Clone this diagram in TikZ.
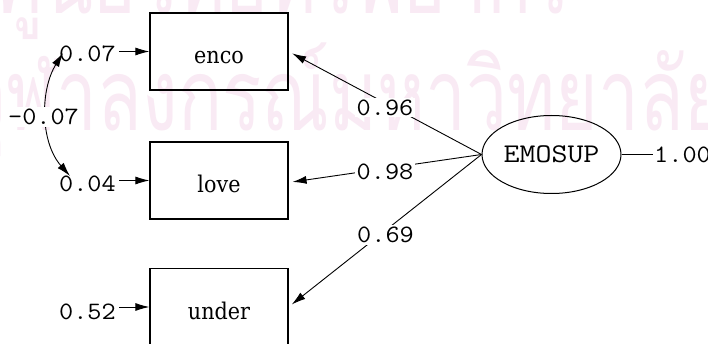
\documentclass[tikz,border=0pt]{standalone}
\usepackage{fontspec}
\usetikzlibrary{shapes.geometric,arrows.meta}
\newfontfamily\boxfont{DejaVu Serif}[FakeStretch=0.9]
\newfontfamily\numfont{Latin Modern Mono}[FakeStretch=1.1]
\newfontfamily\latfont{Latin Modern Mono}[FakeStretch=1.15]
\newfontfamily\thaifont[Script=Thai,FakeStretch=0.73]{Loma}
\definecolor{wmark}{RGB}{249,234,244}
\tikzset{
  obs/.style={draw, line width=1.2pt, minimum width=138pt, minimum height=77pt, inner sep=0pt,
    text height=24pt, text depth=0pt, font=\boxfont\fontsize{23}{23}\selectfont},
  lat/.style={ellipse, draw, line width=1pt, minimum width=139pt, minimum height=78pt, inner sep=0pt,
    font=\latfont\fontsize{27}{27}\selectfont},
  numtxt/.style={font=\numfont\fontsize{25}{25}\selectfont, inner sep=1pt},
  loadlab/.style={numtxt, fill=white, inner sep=2pt},
  conn/.style={line width=0.9pt, -{Latex[length=14pt,width=8pt]}},
  cov/.style={line width=0.9pt, {Latex[length=14pt,width=8pt]}-{Latex[length=14pt,width=8pt]}},
  wm/.style={font=\thaifont\fontsize{100}{100}\selectfont, text=wmark, inner sep=0pt}
}
\begin{document}
\begin{tikzpicture}[x=1pt,y=-1pt]
\useasboundingbox (0,0) rectangle (708,344);
\fill[white] (0,0) rectangle (708,344);
% watermark
\node[wm, anchor=base west] (wm1) at (-3,14) {ศูนย์วิทยทรัพยากร};
\node[wm, anchor=base west] (wm2) at (-36,131) {จุฬาลงกรณ์มหาวิทยาลัย};
% observed variables
\node[obs] (enco) at (219,51.5) {enco};
\node[obs] (love) at (219,180.5) {love};
\node[obs] (under) at (219,307) {under};
% latent
\node[lat] (emo) at (551.5,154.5) {EMOSUP};
% error terms
\node[numtxt, anchor=east] (e1) at (117,54) {0.07};
\node[numtxt, anchor=east] (e2) at (117,183.5) {0.04};
\node[numtxt, anchor=east] (e3) at (117,311.5) {0.52};
\draw[conn] (enco.west -| e1.east) ++(2,0) coordinate (s1) -- (enco.west);
\draw[conn] (love.west -| e2.east) ++(2,0) coordinate (s2) -- (love.west);
\draw[conn] (under.west -| e3.east) ++(2,0) coordinate (s3) -- (under.west);
% covariance
\coordinate (c1) at (63,53);
\coordinate (c2) at (70,176);
\draw[cov] (c1) .. controls (40,90) and (40,142) .. (c2);
\node[loadlab] (cv) at (43.5,117) {-0.07};
% loadings
\draw[conn, shorten >=4pt] (emo.west) -- (enco.east);
\draw[conn, shorten >=4pt] (emo.west) -- ([yshift=-2pt]love.east);
\draw[conn, shorten >=4pt] (emo.west) -- (under.east);
\node[loadlab] (l1) at (385,107.5) {0.96};
\node[loadlab] (l2) at (385,171.5) {0.98};
\node[loadlab] (l3) at (385.5,235) {0.69};
% latent variance
\node[numtxt, anchor=west] (v1) at (653,154.5) {1.00};
\draw[line width=0.9pt] (emo.east) -- (v1.west);
\end{tikzpicture}
\end{document}
